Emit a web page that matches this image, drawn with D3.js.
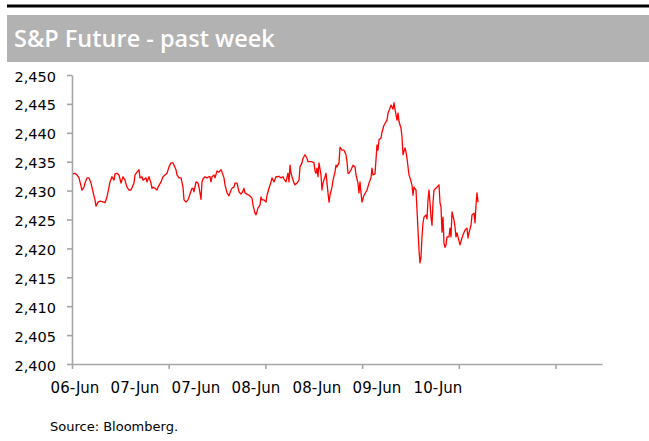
<!DOCTYPE html>
<html>
<head>
<meta charset="utf-8">
<script src="https://cdn.jsdelivr.net/npm/d3@7"></script>
<style>
  body { margin: 0; background: #fff; }
  svg { display: block; }
</style>
</head>
<body>
<svg id="mySvg"></svg>
<script>
const width = 649;
const height = 441;

// observation number (intraday bars since start) and S&P future price
const obs = [
  1, 3, 5, 7, 10, 12, 13, 15, 17, 19, 21, 23, 24, 26, 28, 32, 33, 35, 37, 38,
  40, 42, 43, 45, 47, 49, 51, 53, 55, 57, 59, 62, 63, 65, 67, 68, 70, 71, 74, 75,
  77, 79, 80, 81, 83, 85, 86, 89, 91, 93, 95, 97, 99, 101, 102, 104, 105, 107, 109, 111,
  112, 114, 116, 117, 120, 121, 122, 124, 126, 127, 129, 130, 131, 133, 135, 137, 138, 139, 140, 142,
  143, 145, 147, 149, 150, 152, 153, 155, 157, 159, 160, 162, 163, 165, 167, 169, 170, 172, 173, 175,
  177, 179, 180, 181, 183, 184, 186, 188, 189, 190, 192, 194, 195, 197, 199, 200, 202, 204, 205, 206,
  207, 209, 211, 212, 214, 216, 217, 218, 219, 220, 222, 223, 225, 227, 228, 230, 231, 233, 235, 236,
  238, 240, 242, 243, 244, 245, 246, 247, 249, 250, 251, 253, 254, 255, 256, 257, 258, 260, 261, 263,
  264, 265, 267, 268, 270, 272, 273, 274, 275, 276, 277, 279, 281, 283, 284, 286, 287, 288, 289, 290,
  292, 294, 295, 297, 299, 300, 301, 303, 305, 306, 307, 309, 310, 312, 314, 315, 316, 318, 319, 321,
  322, 323, 325, 326, 327, 329, 330, 331, 333, 334, 335, 337, 338, 340, 341, 342, 344, 345, 346, 347,
  348, 349, 350, 351, 352, 354, 355, 356, 357, 358, 359, 360, 361, 362, 364, 365, 367, 368, 369, 370,
  371, 372, 373, 374, 375, 377, 378, 379, 380, 382, 383, 384, 385, 386, 388, 390, 391, 393, 395, 396,
  397, 399, 400, 402, 403, 404, 405, 406
];
const price = [
  2432.9, 2433.0, 2432.7, 2432.2, 2430.1, 2430.6, 2431.3, 2432.2, 2432.2, 2431.3, 2429.8, 2428.4, 2427.3, 2428.0, 2428.2, 2428.0, 2427.9, 2428.9, 2430.6, 2431.5,
  2432.4, 2431.8, 2432.9, 2433.0, 2432.7, 2431.3, 2432.4, 2431.8, 2430.6, 2430.1, 2430.1, 2431.3, 2432.7, 2433.2, 2433.6, 2432.2, 2432.4, 2431.8, 2432.2, 2431.5,
  2432.4, 2431.3, 2430.4, 2430.6, 2430.4, 2430.1, 2430.6, 2431.5, 2432.4, 2432.7, 2433.0, 2434.1, 2434.8, 2434.8, 2434.4, 2433.6, 2432.7, 2432.2, 2432.2, 2430.6,
  2428.4, 2428.0, 2428.4, 2428.9, 2430.4, 2430.4, 2429.8, 2431.5, 2431.3, 2430.6, 2428.5, 2431.5, 2432.0, 2432.4, 2432.2, 2432.4, 2432.4, 2431.5, 2432.4, 2432.7,
  2432.2, 2433.4, 2433.2, 2433.6, 2433.2, 2432.2, 2431.0, 2429.6, 2429.1, 2430.1, 2430.4, 2430.6, 2431.3, 2431.3, 2429.8, 2429.4, 2429.6, 2430.4, 2429.6, 2429.4,
  2429.2, 2428.9, 2428.7, 2427.5, 2426.1, 2425.8, 2427.0, 2427.5, 2428.9, 2428.4, 2428.4, 2428.0, 2429.2, 2430.4, 2431.5, 2432.2, 2431.5, 2432.4, 2432.4, 2432.4,
  2432.5, 2432.2, 2432.4, 2432.0, 2431.5, 2433.0, 2431.5, 2434.4, 2433.0, 2432.4, 2431.3, 2431.0, 2431.3, 2431.8, 2434.1, 2434.8, 2435.6, 2436.2, 2435.6, 2435.0,
  2435.0, 2435.0, 2434.8, 2433.4, 2433.0, 2433.9, 2432.4, 2434.8, 2432.7, 2430.1, 2431.3, 2432.4, 2433.0, 2431.3, 2429.6, 2428.0, 2429.2, 2430.6, 2431.8, 2433.2,
  2434.4, 2434.1, 2434.8, 2437.5, 2437.0, 2437.0, 2436.6, 2436.2, 2435.0, 2433.0, 2433.0, 2433.6, 2434.4, 2434.1, 2432.7, 2431.3, 2429.6, 2431.5, 2429.6, 2428.0,
  2429.2, 2429.8, 2430.1, 2431.3, 2432.2, 2433.9, 2432.7, 2432.9, 2437.9, 2437.0, 2438.8, 2439.1, 2440.1, 2441.3, 2441.9, 2442.2, 2443.4, 2444.3, 2444.8, 2444.1,
  2445.2, 2444.1, 2442.2, 2443.4, 2441.9, 2440.8, 2439.3, 2436.2, 2437.4, 2436.7, 2435.6, 2432.7, 2432.2, 2431.0, 2429.2, 2430.6, 2430.1, 2426.6, 2423.2, 2419.7,
  2417.5, 2418.5, 2422.0, 2424.4, 2425.4, 2425.8, 2425.1, 2428.4, 2430.1, 2427.9, 2425.4, 2424.0, 2427.9, 2430.1, 2430.4, 2430.6, 2431.0, 2427.9, 2427.2, 2422.8,
  2425.4, 2420.9, 2420.2, 2420.6, 2422.0, 2422.0, 2423.5, 2422.0, 2426.3, 2424.9, 2423.7, 2422.0, 2422.7, 2422.0, 2420.6, 2421.8, 2422.3, 2423.2, 2423.5, 2421.8,
  2422.7, 2424.0, 2425.8, 2426.1, 2424.4, 2427.5, 2429.6, 2428.0
];

// category axis labels (Excel shows one every ~60 bars)
const xLabels = ["06-Jun", "07-Jun", "07-Jun", "08-Jun", "08-Jun", "09-Jun", "10-Jun"];
const xLabelObs = [3, 63, 124, 184, 245, 305, 366];
const tickEvery = 96.7;
const yTicks = [2400, 2405, 2410, 2415, 2420, 2425, 2430, 2435, 2440, 2445, 2450];

const title = "S&P Future - past week";
const source = "Source: Bloomberg.";

const data = obs.map((o, i) => ({ obs: o, price: price[i] }));

const svg = d3.select("#mySvg").attr("width", width).attr("height", height);

// header: black rule + grey title bar
svg.append("rect").attr("x", 7).attr("y", 4.5).attr("width", width - 7).attr("height", 3).attr("fill", "#000");
svg.append("rect").attr("x", 7).attr("y", 15).attr("width", width - 7).attr("height", 47).attr("fill", "#b2b2b2");
svg.append("text")
  .attr("x", 14)
  .attr("y", 47)
  .attr("fill", "#fff")
  .style("font-family", "'Open Sans', sans-serif")
  .style("font-weight", 600)
  .style("font-size", "23.5px")
  .text(title);

const x = d3.scaleLinear().domain([0, 530]).range([72, 602]);
const y = d3.scaleLinear().domain([2400, 2450]).range([364, 75]);

const axisColor = "#a6a6a6";

// y axis
const yAxis = svg.append("g")
  .attr("transform", `translate(${x.range()[0]},0)`)
  .call(d3.axisLeft(y).tickValues(yTicks).tickSize(5).tickSizeOuter(0).tickPadding(11).tickFormat(d3.format(",")));

// x axis
const xAxis = svg.append("g")
  .attr("transform", `translate(0,${y.range()[0]})`)
  .call(d3.axisBottom(x).tickValues(d3.range(0, 530, tickEvery)).tickSize(5).tickSizeOuter(0).tickFormat(""));

[yAxis, xAxis].forEach((g) => {
  g.select(".domain").attr("stroke", axisColor).attr("stroke-width", 1.6);
  g.selectAll(".tick line").attr("stroke", axisColor).attr("stroke-width", 1.6);
});

yAxis.selectAll("text")
  .attr("fill", "#000")
  .attr("dy", "0.42em")
  .style("font-family", "'DejaVu Sans', sans-serif")
  .style("font-size", "14.5px");

svg.append("g")
  .selectAll("text")
  .data(xLabels)
  .join("text")
  .attr("x", (d, i) => x(xLabelObs[i]))
  .attr("y", 393)
  .attr("text-anchor", "middle")
  .attr("fill", "#000")
  .style("font-family", "'DejaVu Sans', sans-serif")
  .style("font-size", "15px")
  .text((d) => d);

// price line
const line = d3.line()
  .x((d) => x(d.obs))
  .y((d) => y(d.price));

svg.append("path")
  .datum(data)
  .attr("fill", "none")
  .attr("stroke", "#ff0000")
  .attr("stroke-width", 1.3)
  .attr("stroke-linejoin", "round")
  .attr("d", line);

svg.append("text")
  .attr("x", 50)
  .attr("y", 431)
  .attr("fill", "#000")
  .style("font-family", "'DejaVu Sans', sans-serif")
  .style("font-size", "13px")
  .text(source);
</script>
</body>
</html>
